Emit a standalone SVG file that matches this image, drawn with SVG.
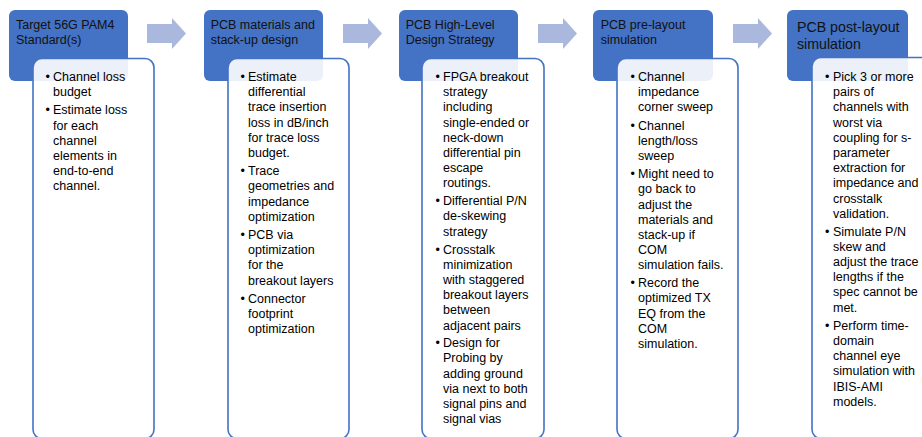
<svg xmlns="http://www.w3.org/2000/svg" width="922" height="437" viewBox="0 0 922 437">
<style>
.hdr{fill:#4472c4}
.body{fill:#ffffff;fill-opacity:0.9;stroke:#4472c4;stroke-width:1.6}
.ht{font-family:"Liberation Sans",Arial,sans-serif;font-size:12.5px;fill:#111111}
.ht5{font-family:"Liberation Sans",Arial,sans-serif;font-size:14.2px;fill:#111111}
.bt{font-family:"Liberation Sans",Arial,sans-serif;font-size:12.5px;fill:#000000}
.arrow{fill:#a9b8dc}
</style>
<rect width="922" height="437" fill="#ffffff"/>
<g id="connectors">
<path class="arrow" d="M147,24 H172 V18 L186,33.5 L172,49 V43 H147 Z"/>
<path class="arrow" d="M343,24 H368 V18 L382,33.5 L368,49 V43 H343 Z"/>
<path class="arrow" d="M538,24 H563 V18 L577,33.5 L563,49 V43 H538 Z"/>
<path class="arrow" d="M733,24 H758 V18 L772,33.5 L758,49 V43 H733 Z"/>
</g>
<g id="node1">
<rect class="hdr" x="9" y="10" width="119" height="71" rx="6"/>
<text class="ht" x="16" y="29">Target 56G PAM4</text>
<text class="ht" x="16" y="43.5">Standard(s)</text>
<rect class="body" x="33" y="58.5" width="121" height="380" rx="9"/>
<text class="bt" x="45.5" y="81">•</text>
<text class="bt" x="53" y="81">Channel loss</text>
<text class="bt" x="53" y="96.2">budget</text>
<text class="bt" x="45.5" y="114.4">•</text>
<text class="bt" x="53" y="114.4">Estimate loss</text>
<text class="bt" x="53" y="129.6">for each</text>
<text class="bt" x="53" y="144.8">channel</text>
<text class="bt" x="53" y="160">elements in</text>
<text class="bt" x="53" y="175.2">end-to-end</text>
<text class="bt" x="53" y="190.4">channel.</text>
</g>
<g id="node2">
<rect class="hdr" x="204" y="10" width="119" height="71" rx="6"/>
<text class="ht" x="210.7" y="29">PCB materials and</text>
<text class="ht" x="210.7" y="43.5">stack-up design</text>
<rect class="body" x="228" y="58.5" width="121" height="380" rx="9"/>
<text class="bt" x="240.5" y="81">•</text>
<text class="bt" x="248" y="81">Estimate</text>
<text class="bt" x="248" y="96.2">differential</text>
<text class="bt" x="248" y="111.4">trace insertion</text>
<text class="bt" x="248" y="126.6">loss in dB/inch</text>
<text class="bt" x="248" y="141.8">for trace loss</text>
<text class="bt" x="248" y="157">budget.</text>
<text class="bt" x="240.5" y="175.2">•</text>
<text class="bt" x="248" y="175.2">Trace</text>
<text class="bt" x="248" y="190.4">geometries and</text>
<text class="bt" x="248" y="205.6">impedance</text>
<text class="bt" x="248" y="220.8">optimization</text>
<text class="bt" x="240.5" y="239">•</text>
<text class="bt" x="248" y="239">PCB via</text>
<text class="bt" x="248" y="254.2">optimization</text>
<text class="bt" x="248" y="269.4">for the</text>
<text class="bt" x="248" y="284.6">breakout layers</text>
<text class="bt" x="240.5" y="302.8">•</text>
<text class="bt" x="248" y="302.8">Connector</text>
<text class="bt" x="248" y="318">footprint</text>
<text class="bt" x="248" y="333.2">optimization</text>
</g>
<g id="node3">
<rect class="hdr" x="399" y="10" width="119" height="71" rx="6"/>
<text class="ht" x="405.7" y="29">PCB High-Level</text>
<text class="ht" x="405.7" y="43.5">Design Strategy</text>
<rect class="body" x="422" y="58.5" width="122" height="380" rx="9"/>
<text class="bt" x="435.5" y="81">•</text>
<text class="bt" x="443" y="81">FPGA breakout</text>
<text class="bt" x="443" y="96.2">strategy</text>
<text class="bt" x="443" y="111.4">including</text>
<text class="bt" x="443" y="126.6">single-ended or</text>
<text class="bt" x="443" y="141.8">neck-down</text>
<text class="bt" x="443" y="157">differential pin</text>
<text class="bt" x="443" y="172.2">escape</text>
<text class="bt" x="443" y="187.4">routings.</text>
<text class="bt" x="435.5" y="205.2">•</text>
<text class="bt" x="443" y="205.2">Differential P/N</text>
<text class="bt" x="443" y="220.4">de-skewing</text>
<text class="bt" x="443" y="235.6">strategy</text>
<text class="bt" x="435.5" y="253.6">•</text>
<text class="bt" x="443" y="253.6">Crosstalk</text>
<text class="bt" x="443" y="268.8">minimization</text>
<text class="bt" x="443" y="284">with staggered</text>
<text class="bt" x="443" y="299.2">breakout layers</text>
<text class="bt" x="443" y="314.4">between</text>
<text class="bt" x="443" y="329.6">adjacent pairs</text>
<text class="bt" x="435.5" y="347.2">•</text>
<text class="bt" x="443" y="347.2">Design for</text>
<text class="bt" x="443" y="362.4">Probing by</text>
<text class="bt" x="443" y="377.6">adding ground</text>
<text class="bt" x="443" y="392.8">via next to both</text>
<text class="bt" x="443" y="408">signal pins and</text>
<text class="bt" x="443" y="423.2">signal vias</text>
</g>
<g id="node4">
<rect class="hdr" x="593" y="10" width="120" height="71" rx="6"/>
<text class="ht" x="600.7" y="29">PCB pre-layout</text>
<text class="ht" x="600.7" y="43.5">simulation</text>
<rect class="body" x="617" y="58.5" width="121" height="380" rx="9"/>
<text class="bt" x="630.5" y="81">•</text>
<text class="bt" x="638" y="81">Channel</text>
<text class="bt" x="638" y="96.2">impedance</text>
<text class="bt" x="638" y="111.4">corner sweep</text>
<text class="bt" x="630.5" y="129.6">•</text>
<text class="bt" x="638" y="129.6">Channel</text>
<text class="bt" x="638" y="144.8">length/loss</text>
<text class="bt" x="638" y="160">sweep</text>
<text class="bt" x="630.5" y="178.2">•</text>
<text class="bt" x="638" y="178.2">Might need to</text>
<text class="bt" x="638" y="193.4">go back to</text>
<text class="bt" x="638" y="208.6">adjust the</text>
<text class="bt" x="638" y="223.8">materials and</text>
<text class="bt" x="638" y="239">stack-up if</text>
<text class="bt" x="638" y="254.2">COM</text>
<text class="bt" x="638" y="269.4">simulation fails.</text>
<text class="bt" x="630.5" y="287.2">•</text>
<text class="bt" x="638" y="287.2">Record the</text>
<text class="bt" x="638" y="302.4">optimized TX</text>
<text class="bt" x="638" y="317.6">EQ from the</text>
<text class="bt" x="638" y="332.8">COM</text>
<text class="bt" x="638" y="348">simulation.</text>
</g>
<g id="node5">
<rect class="hdr" x="787" y="10" width="121" height="71" rx="6"/>
<text class="ht5" x="797" y="32.3">PCB post-layout</text>
<text class="ht5" x="797" y="48.5">simulation</text>
<rect class="body" x="812" y="57.5" width="124" height="381" rx="9"/>
<text class="bt" x="825" y="81">•</text>
<text class="bt" x="833" y="81">Pick 3 or more</text>
<text class="bt" x="833" y="96.2">pairs of</text>
<text class="bt" x="833" y="111.4">channels with</text>
<text class="bt" x="833" y="126.6">worst via</text>
<text class="bt" x="833" y="141.8">coupling for s-</text>
<text class="bt" x="833" y="157">parameter</text>
<text class="bt" x="833" y="172.2">extraction for</text>
<text class="bt" x="833" y="187.4">impedance and</text>
<text class="bt" x="833" y="202.6">crosstalk</text>
<text class="bt" x="833" y="217.8">validation.</text>
<text class="bt" x="825" y="235.6">•</text>
<text class="bt" x="833" y="235.6">Simulate P/N</text>
<text class="bt" x="833" y="250.8">skew and</text>
<text class="bt" x="833" y="266">adjust the trace</text>
<text class="bt" x="833" y="281.2">lengths if the</text>
<text class="bt" x="833" y="296.4">spec cannot be</text>
<text class="bt" x="833" y="311.6">met.</text>
<text class="bt" x="825" y="329.8">•</text>
<text class="bt" x="833" y="329.8">Perform time-</text>
<text class="bt" x="833" y="345">domain</text>
<text class="bt" x="833" y="360.2">channel eye</text>
<text class="bt" x="833" y="375.4">simulation with</text>
<text class="bt" x="833" y="390.6">IBIS-AMI</text>
<text class="bt" x="833" y="405.8">models.</text>
</g>
</svg>
